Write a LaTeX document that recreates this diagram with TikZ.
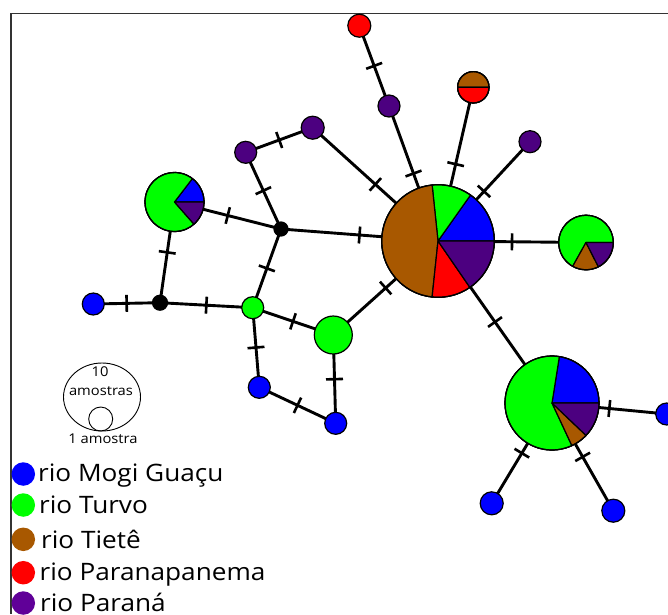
\documentclass[tikz,border=0pt]{standalone}
\usepackage{fontspec}
\setmainfont{Open Sans}
\newfontfamily\legfont[FakeStretch=1.09]{Open Sans}
\usetikzlibrary{backgrounds}
\definecolor{cblue}{RGB}{0,0,255}
\definecolor{cgreen}{RGB}{0,255,0}
\definecolor{cbrown}{RGB}{168,88,0}
\definecolor{cred}{RGB}{255,0,0}
\definecolor{cpurple}{RGB}{76,0,128}
\definecolor{lpurple}{RGB}{96,0,152}
\newcommand{\pieslice}[5]{%
  \filldraw[fill=#5, pieline] (#1) -- ++(#3:#2pt) arc[start angle=#3, end angle=#4, radius=#2pt] -- cycle;}
\newcommand{\pierim}[2]{\draw[pieline] (#1) circle[radius=#2pt];}
\tikzset{
  hap/.style={circle, draw=black, line width=1.2pt, inner sep=0pt, minimum size=#1},
  hap/.default=23pt,
  pieline/.style={draw=black, line width=1.2pt, line join=round},
  edge/.style={line width=2.9pt},
  hatch/.style={sloped, fill=black, inner sep=0pt, minimum width=2.6pt, minimum height=17pt},
  frame/.style={line width=1.3pt, draw=black!80},
  legdot/.style={circle, inner sep=0pt, minimum size=23.5pt},
  legtext/.style={anchor=base west, inner sep=0pt, font=\legfont\fontsize{24}{26}\selectfont},
  scaletext/.style={inner sep=0pt, font=\legfont\fontsize{13.5}{16}\selectfont},
}
\begin{document}
\begin{tikzpicture}[x=1pt, y=-1pt]
\useasboundingbox (0,0) rectangle (668,614);
\clip (0,0) rectangle (668,614);
\draw[frame] (668,13.5) -- (11,13.5) -- (11,614);

% pie nodes
\node[hap=112.6pt] (H) at (438,241) {};
\node[hap=94pt] (P2) at (552,403) {};
\node[hap=59pt] (P3) at (174.5,202) {};
\node[hap=54.6pt] (P4) at (586,242.5) {};
\node[hap=31.4pt] (RB) at (473.3,87.3) {};
% simple nodes
\node[hap, fill=cred] (R1) at (359.3,25.7) {};
\node[hap=22pt, fill=cpurple] (U1) at (389,106) {};
\node[hap=22pt, fill=cpurple] (U2) at (530,141.7) {};
\node[hap, fill=cpurple] (U3) at (312.7,127.7) {};
\node[hap=22pt, fill=cpurple] (U4) at (245.7,152.3) {};
\node[hap=14pt, fill=black] (K1) at (281,229) {};
\node[hap=15pt, fill=black] (K2) at (160,302.7) {};
\node[hap=22pt, fill=cblue] (B1) at (93.3,304) {};
\node[hap=22pt, fill=cgreen] (G1) at (252.7,307.7) {};
\node[hap=38pt, fill=cgreen] (G2) at (333.3,335) {};
\node[hap=22pt, fill=cblue] (B2) at (259.3,387.3) {};
\node[hap=22pt, fill=cblue] (B3) at (335.7,423.3) {};
\node[hap=22pt, fill=cblue] (B4) at (666.7,414) {};
\node[hap, fill=cblue] (B5) at (491.7,503.3) {};
\node[hap, fill=cblue] (B6) at (613.3,510.7) {};

% pie slices
\pieslice{H.center}{56.3}{0}{54.7}{cblue}
\pieslice{H.center}{56.3}{54.7}{96}{cgreen}
\pieslice{H.center}{56.3}{96}{264}{cbrown}
\pieslice{H.center}{56.3}{264}{304.5}{cred}
\pieslice{H.center}{56.3}{304.5}{360}{cpurple}
\pierim{H.center}{56.3}

\pieslice{P2.center}{47}{0}{81}{cblue}
\pieslice{P2.center}{47}{81}{295}{cgreen}
\pieslice{P2.center}{47}{295}{316.4}{cbrown}
\pieslice{P2.center}{47}{316.4}{360}{cpurple}
\pierim{P2.center}{47}

\pieslice{P3.center}{29.5}{0}{52.6}{cblue}
\pieslice{P3.center}{29.5}{52.6}{311.3}{cgreen}
\pieslice{P3.center}{29.5}{311.3}{360}{cpurple}
\pierim{P3.center}{29.5}

\pieslice{P4.center}{27.3}{0}{240.8}{cgreen}
\pieslice{P4.center}{27.3}{240.8}{297}{cbrown}
\pieslice{P4.center}{27.3}{297}{360}{cpurple}
\pierim{P4.center}{27.3}

\pieslice{RB.center}{15.7}{0}{180}{cbrown}
\pieslice{RB.center}{15.7}{180}{360}{cred}
\pierim{RB.center}{15.7}

% connectors
\begin{pgfonlayer}{background}
\foreach \a/\b in {H/RB, H/U2, H/U1, U1/R1, H/U3, U3/U4, U4/K1, H/K1, K1/P3, K1/G1,
  P3/K2, K2/B1, K2/G1, G1/G2, G1/B2, G2/B3, B2/B3, H/G2, H/P4, H/P2, P2/B4, P2/B5, P2/B6}
  \draw[edge] (\a.center) -- node[hatch, pos=0.5] {} (\b.center);
\end{pgfonlayer}

% scale
\draw[line width=0.9pt] (102,397) ellipse[x radius=38.5pt, y radius=34pt];
\draw[line width=0.9pt] (100.7,419) circle[radius=12pt];
\node[scaletext] (s10) at (100,372) {10};
\node[scaletext] (sam) at (101,391) {amostras};
\node[scaletext] (s1) at (103,439) {1 amostra};

% legend
\node[legdot, fill=cblue] (L1) at (23.3,474) {};
\node[legdot, fill=cgreen] (L2) at (23.3,505) {};
\node[legdot, fill=cbrown] (L3) at (23.3,539.3) {};
\node[legdot, fill=cred] (L4) at (23.3,572.7) {};
\node[legdot, fill=lpurple] (L5) at (23.3,603) {};
\node[legtext] (T1) at (38,481) {rio Mogi Guaçu};
\node[legtext] (T2) at (39,513) {rio Turvo};
\node[legtext] (T3) at (41,548) {rio Tietê};
\node[legtext] (T4) at (39.5,580) {rio Paranapanema};
\node[legtext] (T5) at (40,611) {rio Paraná};
\end{tikzpicture}
\end{document}
